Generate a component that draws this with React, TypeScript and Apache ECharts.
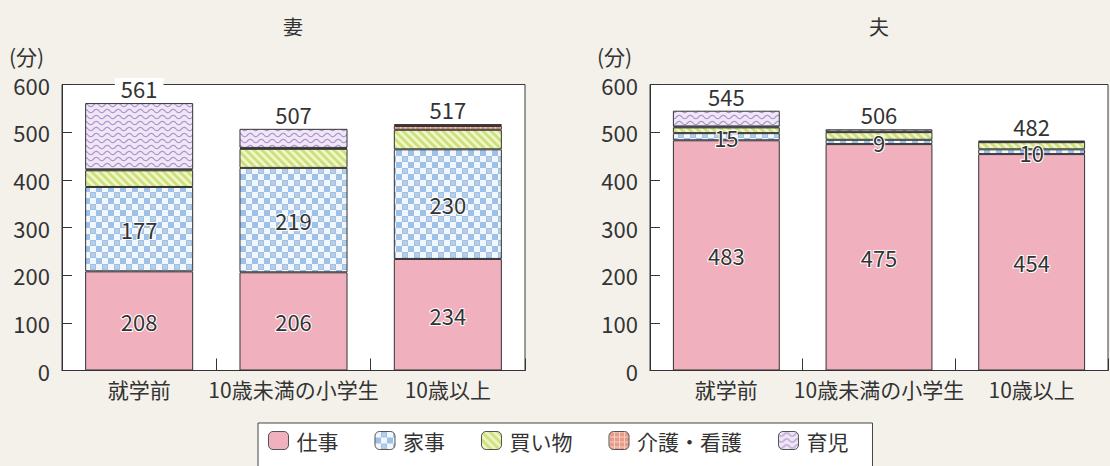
import React, { useEffect, useRef } from 'react';
import * as echarts from 'echarts';

const categories = ['就学前', '10歳未満の小学生', '10歳以上'];
const seriesNames = ['仕事', '家事', '買い物', '介護・看護', '育児'];

const wifeWork = [208, 206, 234];
const wifeHousework = [177, 219, 230];
const wifeShopping = [35, 40, 41];
const wifeCare = [2, 2, 8];
const wifeChildcare = [139, 40, 4];
const wifeTotal = [561, 507, 517];

const husbandWork = [483, 475, 454];
const husbandHousework = [15, 9, 10];
const husbandShopping = [12, 16, 15];
const husbandCare = [2, 1, 1];
const husbandChildcare = [33, 5, 2];
const husbandTotal = [545, 506, 482];

const panelTitles = ['妻', '夫'];
const unitLabel = '(分)';

const FONT = '"Noto Sans CJK JP", "Noto Sans", sans-serif';
const TEXT = '#333333';
const BG = '#f3f1ea';

function makePattern(w: number, h: number, draw: (ctx: CanvasRenderingContext2D) => void) {
  const c = document.createElement('canvas');
  c.width = w;
  c.height = h;
  const ctx = c.getContext('2d') as CanvasRenderingContext2D;
  draw(ctx);
  return { image: c.toDataURL(), repeat: 'repeat', imageWidth: w, imageHeight: h } as any;
}

function buildPatterns() {
  const work = '#f0b0be';
  const housework = makePattern(12, 12, (ctx) => {
    ctx.fillStyle = '#9dc1e9';
    ctx.fillRect(0, 0, 12, 12);
    ctx.fillStyle = '#f2f7fd';
    ctx.fillRect(0, 0, 6, 6);
    ctx.fillRect(6, 6, 6, 6);
    ctx.fillStyle = '#b9cde3';
    ctx.fillRect(7, 1, 4, 4);
  });
  const shopping = makePattern(8, 8, (ctx) => {
    ctx.fillStyle = '#f1f6c9';
    ctx.fillRect(0, 0, 8, 8);
    ctx.strokeStyle = '#cde07e';
    ctx.lineWidth = 3;
    for (const k of [-8, 0, 8]) {
      ctx.beginPath();
      ctx.moveTo(k - 1, -1);
      ctx.lineTo(k + 9, 9);
      ctx.stroke();
    }
  });
  const care = makePattern(5, 5, (ctx) => {
    ctx.fillStyle = '#e79a86';
    ctx.fillRect(0, 0, 5, 5);
    ctx.fillStyle = '#f6d0c4';
    ctx.fillRect(0, 0, 5, 1);
    ctx.fillRect(0, 0, 1, 5);
  });
  const childcare = makePattern(11, 6, (ctx) => {
    ctx.fillStyle = '#efe6f6';
    ctx.fillRect(0, 0, 11, 6);
    ctx.strokeStyle = '#ae93cc';
    ctx.lineWidth = 1.2;
    ctx.beginPath();
    for (let x = 0; x <= 11; x += 0.5) {
      const y = 3 + 1.7 * Math.sin((2 * Math.PI * x) / 11);
      if (x === 0) ctx.moveTo(x, y);
      else ctx.lineTo(x, y);
    }
    ctx.stroke();
  });
  return [work, housework, shopping, care, childcare];
}

export default function App() {
  const ref = useRef<HTMLDivElement>(null);

  useEffect(() => {
    document.body.style.margin = '0';
    document.body.style.background = BG;
    if (!ref.current) return;
    const chart = echarts.init(ref.current, undefined, { renderer: 'svg' });
    const fills = buildPatterns();

    const wifeData = [wifeWork, wifeHousework, wifeShopping, wifeCare, wifeChildcare];
    const husbandData = [husbandWork, husbandHousework, husbandShopping, husbandCare, husbandChildcare];

    const makeSeries = (data: number[][], totals: number[], idx: number, stack: string) =>
      seriesNames.map((name, i) => {
        const label: any =
          i <= 1
            ? {
                show: true,
                position: 'inside',
                fontSize: 22,
                lineHeight: 22,
                fontFamily: FONT,
                color: TEXT,
                textBorderColor: '#ffffff',
                textBorderWidth: 2,
              }
            : i === 4
            ? {
                show: true,
                position: 'top',
                distance: 5,
                fontSize: 22,
                lineHeight: 20,
                fontFamily: FONT,
                color: TEXT,
                backgroundColor: '#ffffff',
                padding: [0, 6],
                formatter: (p: any) => String(totals[p.dataIndex]),
              }
            : { show: false };
        return {
          name,
          type: 'bar',
          stack,
          xAxisIndex: idx,
          yAxisIndex: idx,
          barCategoryGap: '30%',
          data: data[i],
          itemStyle: { color: fills[i], borderColor: '#333333', borderWidth: 1 },
          label,
          labelLayout: { hideOverlap: false },
          emphasis: { disabled: true },
        };
      });

    const axisLabelStyle = { fontFamily: FONT, color: TEXT };

    const xAxisBase = (gridIndex: number) => ({
      type: 'category',
      gridIndex,
      data: categories,
      axisLine: { show: true, lineStyle: { color: '#333333', width: 1 } },
      axisTick: { show: true, inside: true, length: 12, lineStyle: { color: '#333333' } },
      axisLabel: { ...axisLabelStyle, fontSize: 21, margin: 8, interval: 0, hideOverlap: false },
    });
    const yAxisBase = (gridIndex: number) => ({
      type: 'value',
      gridIndex,
      min: 0,
      max: 600,
      interval: 100,
      axisLine: { show: true, lineStyle: { color: '#333333', width: 1 } },
      axisTick: { show: true, inside: true, length: 10, lineStyle: { color: '#333333' } },
      splitLine: { show: false },
      axisLabel: { ...axisLabelStyle, fontSize: 22, margin: 12 },
    });

    const option: any = {
      animation: false,
      backgroundColor: BG,
      textStyle: { fontFamily: FONT },
      grid: [
        { left: 62, top: 84.5, width: 463, height: 286, show: true, backgroundColor: '#ffffff', borderColor: '#3a3a3a', borderWidth: 1 },
        { left: 650, top: 84.5, width: 458, height: 286, show: true, backgroundColor: '#ffffff', borderColor: '#3a3a3a', borderWidth: 1 },
      ],
      xAxis: [xAxisBase(0), xAxisBase(1)],
      yAxis: [yAxisBase(0), yAxisBase(1)],
      legend: {
        data: seriesNames,
        left: 258,
        top: 423,
        orient: 'horizontal',
        itemWidth: 20,
        itemHeight: 18,
        itemGap: 36,
        padding: [7, 24, 20, 10],
        backgroundColor: '#ffffff',
        borderColor: '#444444',
        borderWidth: 1,
        borderRadius: 0,
        selectedMode: false,
        itemStyle: { borderColor: '#555555', borderWidth: 1 },
        textStyle: { fontFamily: FONT, fontSize: 21, color: TEXT, padding: [0, 0, 0, 3] },
      },
      graphic: [
        { type: 'text', x: 293, y: 26, style: { text: panelTitles[0], fontFamily: FONT, fontSize: 20, fill: TEXT, align: 'center', verticalAlign: 'middle' } },
        { type: 'text', x: 879, y: 26, style: { text: panelTitles[1], fontFamily: FONT, fontSize: 20, fill: TEXT, align: 'center', verticalAlign: 'middle' } },
        { type: 'text', x: 9, y: 56, style: { text: unitLabel, fontFamily: FONT, fontSize: 21, fill: TEXT, align: 'left', verticalAlign: 'middle' } },
        { type: 'text', x: 597, y: 56, style: { text: unitLabel, fontFamily: FONT, fontSize: 21, fill: TEXT, align: 'left', verticalAlign: 'middle' } },
      ],
      series: [...makeSeries(wifeData, wifeTotal, 0, 'wife'), ...makeSeries(husbandData, husbandTotal, 1, 'husband')],
    };

    chart.setOption(option);
    return () => chart.dispose();
  }, []);

  return <div ref={ref} style={{ width: 1110, height: 466 }} />;
}
